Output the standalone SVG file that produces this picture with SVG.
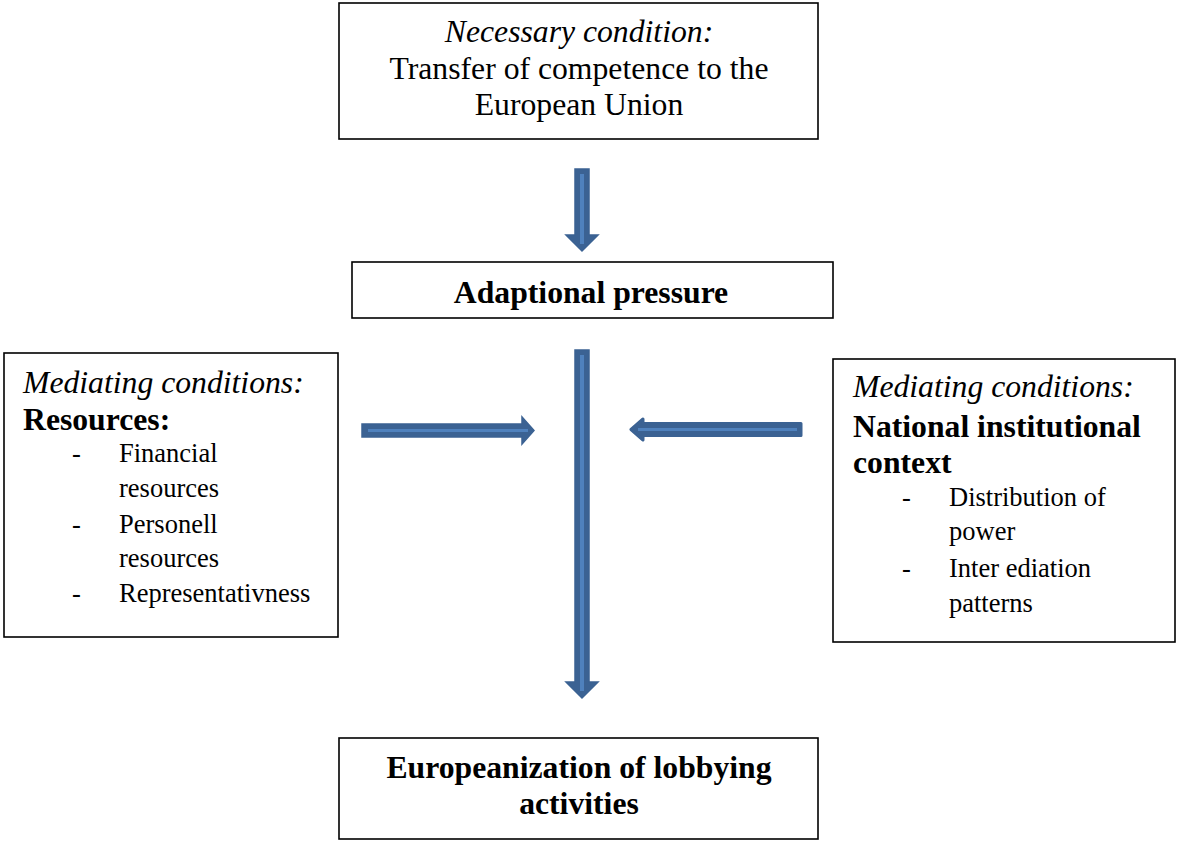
<svg xmlns="http://www.w3.org/2000/svg" width="1178" height="841" viewBox="0 0 1178 841">
<style>
.box{fill:#fff;stroke:#000;stroke-width:1.6}
text{font-family:"Liberation Serif","Times New Roman",serif;fill:#000}
.big{font-size:31.7px}
.sm{font-size:26.5px}
.it{font-style:italic}
.b{font-weight:bold}
.c{text-anchor:middle}
.arr{fill:#3B6293;stroke:#3B6293;stroke-width:1.5}
.arrR{fill:#3B6293;stroke:#3B6293;stroke-width:3;stroke-linejoin:round}
.hl{stroke:#4F81BD;stroke-width:4;fill:none}
</style>
<rect width="1178" height="841" fill="#fff"/>
<g id="node-necessary">
<rect class="box" x="339" y="3" width="479" height="136"/>
<text class="big it c" x="579" y="42">Necessary condition:</text>
<text class="big c" x="579" y="79">Transfer of competence to the</text>
<text class="big c" x="579" y="115">European Union</text>
</g>
<g id="node-adaptional">
<rect class="box" x="352" y="262" width="481" height="56"/>
<text class="big b c" x="591" y="303">Adaptional pressure</text>
</g>
<g id="node-resources">
<rect class="box" x="4" y="353" width="334" height="284"/>
<text class="big it" x="23" y="393">Mediating conditions:</text>
<text class="big b" x="23" y="430">Resources:</text>
<text class="sm" x="72" y="462">-</text>
<text class="sm" x="119" y="462">Financial</text>
<text class="sm" x="119" y="497">resources</text>
<text class="sm" x="72" y="533">-</text>
<text class="sm" x="119" y="533">Personell</text>
<text class="sm" x="119" y="567">resources</text>
<text class="sm" x="72" y="602">-</text>
<text class="sm" x="119" y="602">Representativness</text>
</g>
<g id="node-national">
<rect class="box" x="833" y="359" width="342" height="283"/>
<text class="big it" x="853" y="397">Mediating conditions:</text>
<text class="big b" x="853" y="437">National institutional</text>
<text class="big b" x="853" y="473">context</text>
<text class="sm" x="902" y="506">-</text>
<text class="sm" x="949" y="506">Distribution of</text>
<text class="sm" x="949" y="540">power</text>
<text class="sm" x="902" y="577">-</text>
<text class="sm" x="949" y="577">Inter ediation</text>
<text class="sm" x="949" y="612">patterns</text>
</g>
<g id="node-europeanization">
<rect class="box" x="339" y="738" width="479" height="101"/>
<text class="big b c" x="579" y="778">Europeanization of lobbying</text>
<text class="big b c" x="579" y="814">activities</text>
</g>
<g id="connectors">
<polygon class="arr" points="575,169 589,169 589,235 598,235 582,251 566,235 575,235"/>
<line class="hl" x1="582" y1="174" x2="582" y2="244"/>
<polygon class="arr" points="575,350 589,350 589,682 598,682 582,698 566,682 575,682"/>
<line class="hl" x1="582" y1="355" x2="582" y2="691"/>
<polygon class="arr" points="362,424 522,424 522,417 534,430.5 522,444 522,437 362,437"/>
<line class="hl" x1="368" y1="430.5" x2="528" y2="430.5" style="stroke-width:3"/>
<polygon class="arrR" points="801,423.5 643,423.5 643,419 631,429.5 643,440 643,435.5 801,435.5"/>
<line class="hl" x1="638" y1="429.5" x2="797" y2="429.5" style="stroke-width:3"/>
</g>
</svg>
